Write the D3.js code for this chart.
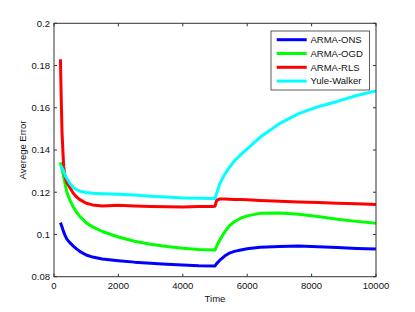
<!DOCTYPE html>
<html>
<head>
<meta charset="utf-8">
<script src="https://cdn.jsdelivr.net/npm/d3@7"></script>
<style>
  html, body { margin: 0; padding: 0; background: #fff; }
  svg { display: block; font-family: "Liberation Sans", Arial, sans-serif; }
</style>
</head>
<body>
<div id="chart"></div>
<script>
// time grid shared by all series
const times = [200, 225, 250, 300, 350, 400, 500, 600, 700, 800, 1000, 1200, 1500, 2000, 2500, 3000, 3500, 4000, 4500, 4950,
  5000, 5050, 5150, 5300, 5450, 5600, 5800, 6000, 6400, 7000, 7600, 8200, 8800, 9400, 10000];

const armaOns = [0.1056, 0.1046, 0.1035, 0.1012, 0.0993, 0.0978, 0.0960, 0.0945, 0.0932, 0.0920, 0.0903, 0.0893, 0.0884, 0.0876, 0.0869, 0.0864, 0.0859, 0.0855, 0.0852, 0.0851,
  0.0851, 0.0862, 0.0878, 0.0898, 0.0912, 0.0920, 0.0926, 0.0932, 0.0939, 0.0943, 0.0945, 0.0942, 0.0938, 0.0934, 0.0931];

const armaOgd = [0.1342, 0.1325, 0.1308, 0.1275, 0.1235, 0.1200, 0.1160, 0.1130, 0.1105, 0.1086, 0.1055, 0.1036, 0.1014, 0.0988, 0.0968, 0.0954, 0.0943, 0.0935, 0.0929, 0.0926,
  0.0926, 0.0945, 0.0974, 0.1012, 0.1042, 0.1060, 0.1077, 0.1088, 0.1100, 0.1102, 0.1096, 0.1085, 0.1072, 0.1062, 0.1053];

const armaRls = [0.1830, 0.1640, 0.1480, 0.1320, 0.1270, 0.1245, 0.1220, 0.1195, 0.1178, 0.1165, 0.1148, 0.1140, 0.1135, 0.1138, 0.1135, 0.1133, 0.1131, 0.1130, 0.1132, 0.1133,
  0.1134, 0.1162, 0.1168, 0.1168, 0.1167, 0.1166, 0.1165, 0.1164, 0.1161, 0.1157, 0.1154, 0.1151, 0.1148, 0.1145, 0.1142];

const yuleWalker = [0.1329, 0.1322, 0.1315, 0.1300, 0.1278, 0.1265, 0.1240, 0.1222, 0.1212, 0.1205, 0.1199, 0.1195, 0.1193, 0.1190, 0.1187, 0.1181, 0.1177, 0.1173, 0.1171, 0.1170,
  0.1170, 0.1195, 0.1240, 0.1285, 0.1318, 0.1348, 0.1378, 0.1405, 0.1460, 0.1525, 0.1572, 0.1605, 0.1630, 0.1658, 0.1680];

const seriesNames = ["ARMA-ONS", "ARMA-OGD", "ARMA-RLS", "Yule-Walker"];
const seriesColors = ["#0000ff", "#00ff00", "#ff0000", "#00ffff"];
const xTicks = [0, 2000, 4000, 6000, 8000, 10000];
const yTicks = [0.08, 0.1, 0.12, 0.14, 0.16, 0.18, 0.2];
const yTickLabels = ["0.08", "0.1", "0.12", "0.14", "0.16", "0.18", "0.2"];

const width = 415, height = 312;
const margin = { top: 23.3, right: 39, bottom: 35.3, left: 54 };

const svg = d3.select("#chart")
  .append("svg")
  .attr("width", width)
  .attr("height", height);

// scales in page coordinates
const x = d3.scaleLinear().domain([0, 10000]).range([margin.left, width - margin.right]);
const y = d3.scaleLinear().domain([0.08, 0.2]).range([height - margin.bottom, margin.top]);
const [x0, x1] = x.range();
const [yb, yt] = y.range();

// lines
const line = d3.line()
  .x(d => x(d[0]))
  .y(d => y(d[1]));

const allSeries = [armaOns, armaOgd, armaRls, yuleWalker];
allSeries.forEach((vals, i) => {
  svg.append("path")
    .datum(times.map((t, j) => [t, vals[j]]))
    .attr("fill", "none")
    .attr("stroke", seriesColors[i])
    .attr("stroke-width", 3)
    .attr("stroke-linejoin", "round")
    .attr("d", line);
});

// tick marks inside on all four sides, matlab style
const tickLen = 3;
const axisCol = "#333";
svg.append("g").selectAll("line")
  .data(xTicks.flatMap(t => [[t, yb, yb - tickLen], [t, yt, yt + tickLen]]))
  .join("line")
  .attr("x1", d => x(d[0])).attr("x2", d => x(d[0]))
  .attr("y1", d => d[1]).attr("y2", d => d[2])
  .attr("stroke", axisCol);

svg.append("g").selectAll("line")
  .data(yTicks.flatMap(v => [[v, x0, x0 + tickLen], [v, x1, x1 - tickLen]]))
  .join("line")
  .attr("y1", d => y(d[0])).attr("y2", d => y(d[0]))
  .attr("x1", d => d[1]).attr("x2", d => d[2])
  .attr("stroke", axisCol);

// box
svg.append("rect")
  .attr("x", x0)
  .attr("y", yt)
  .attr("width", x1 - x0)
  .attr("height", yb - yt)
  .attr("fill", "none")
  .attr("stroke", axisCol)
  .attr("stroke-width", 1);

// tick labels
svg.append("g").selectAll("text")
  .data(xTicks)
  .join("text")
  .attr("x", d => x(d))
  .attr("y", yb + 11.8)
  .attr("text-anchor", "middle")
  .attr("fill", "#111")
  .style("font-size", "9.5px")
  .text(d => String(d));

svg.append("g").selectAll("text")
  .data(yTicks)
  .join("text")
  .attr("x", x0 - 4)
  .attr("y", d => y(d))
  .attr("dy", "0.35em")
  .attr("text-anchor", "end")
  .attr("fill", "#111")
  .style("font-size", "9.5px")
  .text((d, i) => yTickLabels[i]);

// axis labels
svg.append("text")
  .attr("x", (x0 + x1) / 2)
  .attr("y", 301.5)
  .attr("text-anchor", "middle")
  .attr("fill", "#111")
  .style("font-size", "9.5px")
  .text("Time");

svg.append("text")
  .attr("transform", `translate(25.5,${(yb + yt) / 2}) rotate(-90)`)
  .attr("text-anchor", "middle")
  .attr("fill", "#111")
  .style("font-size", "9.5px")
  .text("Averege Error");

// legend
const legend = svg.append("g");
legend.append("rect")
  .attr("x", 271)
  .attr("y", 31)
  .attr("width", 98.5)
  .attr("height", 59)
  .attr("fill", "#fff")
  .attr("stroke", axisCol)
  .attr("stroke-width", 0.8);

seriesNames.forEach((name, i) => {
  const ly = 39.7 + i * 13.8;
  legend.append("line")
    .attr("x1", 276.7)
    .attr("x2", 306.7)
    .attr("y1", ly)
    .attr("y2", ly)
    .attr("stroke", seriesColors[i])
    .attr("stroke-width", 3);
  legend.append("text")
    .attr("x", 310.5)
    .attr("y", ly)
    .attr("dy", "0.35em")
    .attr("fill", "#111")
    .style("font-size", "9.5px")
    .text(name);
});
</script>
</body>
</html>
